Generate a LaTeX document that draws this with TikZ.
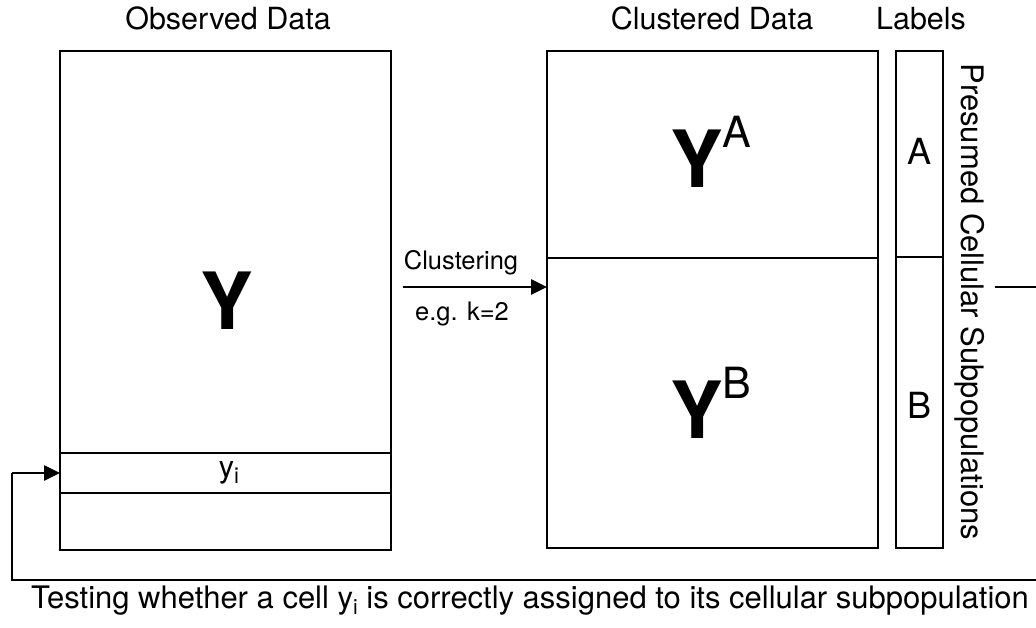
\documentclass[tikz,border=0pt]{standalone}
\usepackage{fontspec}
\setmainfont{TeX Gyre Heros}
\usetikzlibrary{arrows.meta}
\begin{document}
\begin{tikzpicture}[x=1pt,y=-1pt,
  box/.style={draw, line width=2.6pt, inner sep=0pt, outer sep=0pt, anchor=north west},
  conn/.style={line width=2.6pt},
  arr/.style={line width=2.6pt, -{Triangle[length=16pt,width=15pt]}},
  ttl/.style={font=\fontsize{30.5}{36}\selectfont, anchor=base, inner sep=0pt},
  small/.style={font=\fontsize{25.5}{30}\selectfont, anchor=base, inner sep=0pt},
  bigY/.style={font=\fontsize{79}{82}\selectfont\bfseries, anchor=base, inner sep=0pt}
]
\useasboundingbox (0,0) rectangle (1036,628);

% Observed data
\node[box, minimum width=331pt, minimum height=402pt] (obs) at (60,51) {};
\node[box, minimum width=331pt, minimum height=40pt] (yi) at (60,453) {};
\node[box, minimum width=331pt, minimum height=57pt] (rest) at (60,493) {};
\node[bigY] (Y) at (227,330) {Y};
\node[ttl] (yilab) at (229,477) {y\raisebox{-6pt}{\fontsize{22}{26}\selectfont i}};
\node[ttl] (t1) at (228,30) {Observed Data};

% Clustered data
\node[box, minimum width=331pt, minimum height=207pt] (cA) at (547,51) {};
\node[box, minimum width=331pt, minimum height=290pt] (cB) at (547,258) {};
\node[bigY] (YA) at (711,188) {Y\kern-1pt\raisebox{40pt}{\fontsize{43}{48}\selectfont\mdseries A}};
\node[bigY] (YB) at (711,438) {Y\kern-1pt\raisebox{40pt}{\fontsize{43}{48}\selectfont\mdseries B}};
\node[ttl] (t2) at (712,30) {Clustered Data};

% Labels
\node[box, minimum width=47pt, minimum height=206pt] (lA) at (896,51) {};
\node[box, minimum width=47pt, minimum height=291pt] (lB) at (896,257) {};
\node[font=\fontsize{36}{40}\selectfont, anchor=base, inner sep=0pt] (a) at (919,165) {A};
\node[font=\fontsize{36}{40}\selectfont, anchor=base, inner sep=0pt] (b) at (919,418) {B};
\node[ttl] (t3) at (921,30) {Labels};
\node[font=\fontsize{31}{36}\selectfont, rotate=-90, anchor=base, inner sep=0pt] (pcs) at (961,302) {Presumed Cellular Subpopulations};

% Clustering arrow
\coordinate (cs) at (403,287);
\draw[arr] (cs) -- (cs -| cA.west);
\node[small] (clu) at (461,270) {Clustering};
\node[small] (eg) at (462,320) {e.g. k=2};

% right stub
\coordinate (r1) at (995,287);
\coordinate (r2) at (1036,287);
\draw[conn] (r1) -- (r2);

% feedback loop
\coordinate (f0) at (1036,580);
\coordinate (f1) at (12,580);
\coordinate (f2) at (12,473);
\draw[conn] (f0) -- (f1) -- (f2);
\draw[arr] (f2) -- (f2 -| obs.west);

\node[font=\fontsize{31}{36}\selectfont, anchor=base, inner sep=0pt] (bt) at (530,608) {Testing whether a cell y\raisebox{-6pt}{\fontsize{21}{24}\selectfont i} is correctly assigned to its cellular subpopulation};
\end{tikzpicture}
\end{document}
